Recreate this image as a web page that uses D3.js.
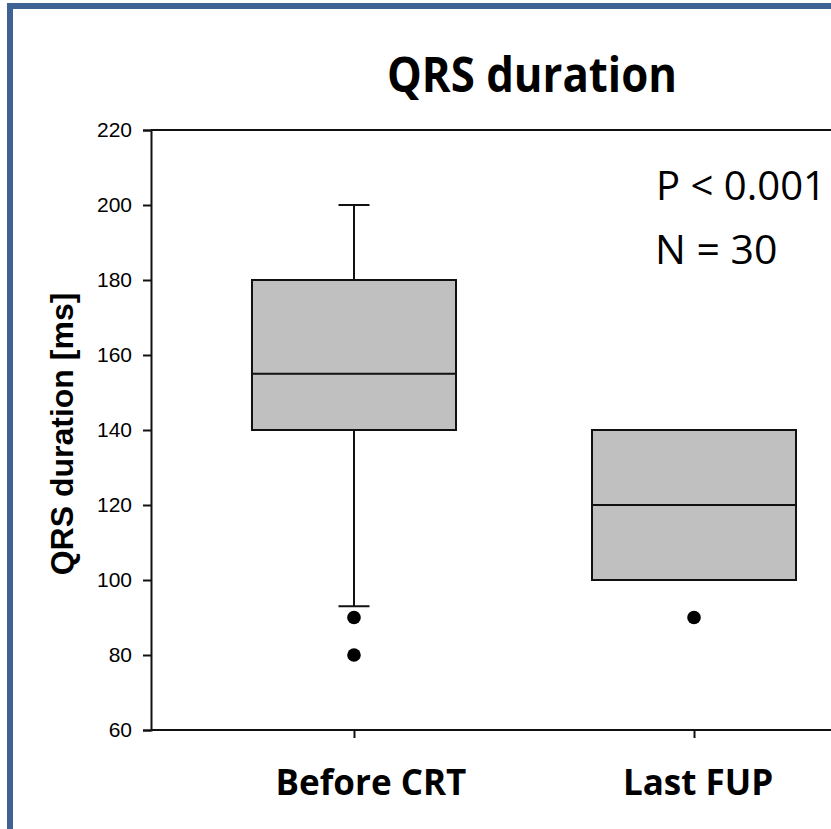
<!DOCTYPE html>
<html>
<head>
<meta charset="utf-8">
<script src="https://cdn.jsdelivr.net/npm/d3@7"></script>
<style>
	body{margin:0;background:#fff;overflow:hidden}
	svg{display:block}
</style>
</head>
<body>
<svg id="chart"></svg>
<script>
// values
const categories = ['Before CRT','Last FUP']
const q1 = [140,100]
const median = [155,120]
const q3 = [180,140]
const whiskerLow = [93,100]
const whiskerHigh = [200,140]
const outliers = [[90,80],[90]]
const yTicks = [60,80,100,120,140,160,180,200,220]

const wdth = 831
const hght = 829

const svg = d3.select('#chart')
	.attr('width',wdth)
	.attr('height',hght)

// blue frame round the slide, runs off right and bottom
svg.append('rect')
	.attr('x',10).attr('y',6)
	.attr('width',1000).attr('height',1000)
	.attr('fill','none')
	.attr('stroke','#3E6294')
	.attr('stroke-width',6)

const pL = 151, pT = 130, pB = 730, pR = 897

const y = d3.scaleLinear().domain([60,220]).range([pB,pT])
const x = d3.scalePoint().domain(categories).range([pL,pR]).padding(0.597)
const boxW = x.step() * 0.6
const capW = 31

const stroke = '#111'

// frame of the plot
svg.append('line')
	.attr('x1',pL).attr('x2',pR + 200)
	.attr('y1',pT).attr('y2',pT)
	.attr('stroke',stroke).attr('stroke-width',2)

const yAxis = svg.append('g')
	.attr('transform',`translate(${pL},0)`)
	.call(d3.axisLeft(y).tickValues(yTicks).tickSize(8).tickPadding(11))
yAxis.select('.domain').attr('stroke',stroke).attr('stroke-width',2)
yAxis.selectAll('.tick line').attr('stroke',stroke).attr('stroke-width',2)
yAxis.selectAll('.tick text')
	.attr('font-family','"Liberation Sans", Arial, sans-serif')
	.attr('font-size',21)
	.attr('fill','#000')

const xAxis = svg.append('g')
	.attr('transform',`translate(0,${pB})`)
	.call(d3.axisBottom(x).tickSize(8).tickFormat(''))
xAxis.select('.domain').attr('d',`M${pL},0H${pR + 200}`).attr('stroke',stroke).attr('stroke-width',2)
xAxis.selectAll('.tick line').attr('stroke',stroke).attr('stroke-width',2)

// boxes
const boxData = categories.map((c,i)=>({c,q1:q1[i],med:median[i],q3:q3[i],lo:whiskerLow[i],hi:whiskerHigh[i],out:outliers[i]}))

const boxes = svg.selectAll('.box')
	.data(boxData)
	.enter()
	.append('g')
	.classed('box',true)

boxes.each(function(d){
	const g = d3.select(this)
	const cx = x(d.c)
	if(d.hi > d.q3){
		g.append('line').attr('x1',cx).attr('x2',cx).attr('y1',y(d.q3)).attr('y2',y(d.hi))
			.attr('stroke',stroke).attr('stroke-width',2)
		g.append('line').attr('x1',cx - capW / 2).attr('x2',cx + capW / 2).attr('y1',y(d.hi)).attr('y2',y(d.hi))
			.attr('stroke',stroke).attr('stroke-width',2)
	}
	if(d.lo < d.q1){
		g.append('line').attr('x1',cx).attr('x2',cx).attr('y1',y(d.q1)).attr('y2',y(d.lo))
			.attr('stroke',stroke).attr('stroke-width',2)
		g.append('line').attr('x1',cx - capW / 2).attr('x2',cx + capW / 2).attr('y1',y(d.lo)).attr('y2',y(d.lo))
			.attr('stroke',stroke).attr('stroke-width',2)
	}
	g.append('rect')
		.attr('x',cx - boxW / 2)
		.attr('y',y(d.q3))
		.attr('width',boxW)
		.attr('height',y(d.q1) - y(d.q3))
		.attr('fill','#C0C0C0')
		.attr('stroke',stroke).attr('stroke-width',2)
	g.append('line').attr('x1',cx - boxW / 2).attr('x2',cx + boxW / 2).attr('y1',y(d.med)).attr('y2',y(d.med))
		.attr('stroke',stroke).attr('stroke-width',2)
	g.selectAll('.out')
		.data(d.out)
		.enter()
		.append('circle')
		.attr('cx',cx)
		.attr('cy',v => y(v))
		.attr('r',6.8)
		.attr('fill','#000')
})

// texts
const calib = '"Open Sans", Carlito, Calibri, sans-serif'

svg.append('text')
	.attr('x',532).attr('y',92)
	.attr('text-anchor','middle')
	.attr('font-family',calib)
	.attr('font-weight','bold')
	.attr('font-size',48)
	.attr('textLength',290)
	.attr('lengthAdjust','spacingAndGlyphs')
	.text('QRS duration')

// category labels sit a little right of their ticks in the original
const labelShift = [17,4]
svg.selectAll('.cat')
	.data(categories)
	.enter()
	.append('text')
	.classed('cat',true)
	.attr('x',(d,i) => x(d) + labelShift[i])
	.attr('y',795)
	.attr('text-anchor','middle')
	.attr('font-family',calib)
	.attr('font-weight','bold')
	.attr('font-size',35)
	.text(d => d)

svg.append('text')
	.attr('transform','translate(73,434) rotate(-90)')
	.attr('text-anchor','middle')
	.attr('font-family','"Liberation Sans", Arial, sans-serif')
	.attr('font-weight','bold')
	.attr('font-size',32)
	.text('QRS duration [ms]')

svg.append('text')
	.attr('x',656).attr('y',200)
	.attr('font-family',calib)
	.attr('font-size',41)
	.attr('textLength',170)
	.attr('lengthAdjust','spacingAndGlyphs')
	.text('P < 0.001')

svg.append('text')
	.attr('x',655).attr('y',264)
	.attr('font-family',calib)
	.attr('font-size',41)
	.text('N = 30')
</script>
</body>
</html>
